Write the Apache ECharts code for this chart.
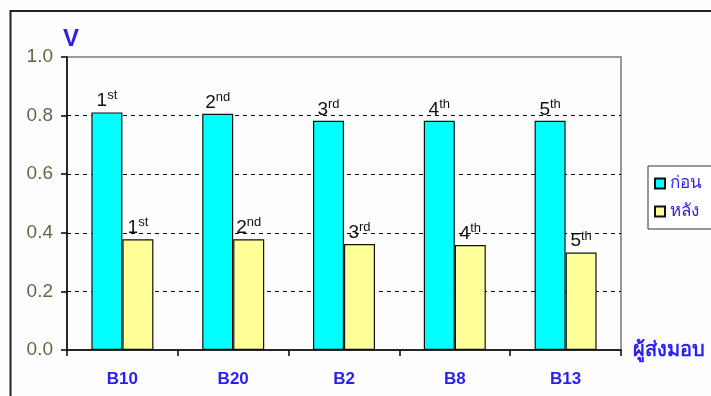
<!DOCTYPE html>
<html>
<head>
<meta charset="utf-8">
<script src="https://cdn.jsdelivr.net/npm/echarts@6/dist/echarts.min.js"></script>
<style>
  html, body { margin: 0; padding: 0; background: #fdfdfd; }
  #chart { width: 711px; height: 396px; }
</style>
</head>
<body>
<div id="chart"></div>
<script>
var categories = ['B10', 'B20', 'B2', 'B8', 'B13'];
var before = [0.811, 0.806, 0.782, 0.782, 0.782];
var after = [0.378, 0.378, 0.362, 0.358, 0.333];
var rankNum = ['1', '2', '3', '4', '5'];
var rankSuffix = ['st', 'nd', 'rd', 'th', 'th'];
var seriesNames = ['ก่อน', 'หลัง'];

var font = "'Liberation Sans', Arial, 'Noto Sans', sans-serif";
var blue = '#2a1ef0';

var myChart = echarts.init(document.getElementById('chart'));

function rankLabel(p) {
  return '{n|' + rankNum[p.dataIndex] + '}{s|' + rankSuffix[p.dataIndex] + '}';
}
var labelStyle = {
  show: true,
  position: 'top',
  distance: 2,
  formatter: rankLabel,
  rich: {
    n: { fontFamily: font, fontSize: 19, color: '#111', lineHeight: 22, verticalAlign: 'bottom' },
    s: { fontFamily: font, fontSize: 13, color: '#111', lineHeight: 22, verticalAlign: 'bottom', padding: [0, 0, 8, 0] }
  }
};

var option = {
  backgroundColor: '#fdfdfd',
  animation: false,
  grid: {
    left: 67,
    right: 90,
    top: 57,
    bottom: 46,
    show: true,
    borderColor: '#9a9a9a',
    borderWidth: 2,
    backgroundColor: 'transparent'
  },
  graphic: [
    {
      type: 'rect',
      shape: { x: 10.5, y: 11, width: 720, height: 400 },
      style: { fill: 'none', stroke: '#222', lineWidth: 2 },
      z: 100
    }
  ],
  legend: {
    orient: 'vertical',
    left: 648,
    top: 166,
    data: seriesNames,
    itemWidth: 10,
    itemHeight: 10,
    itemGap: 11,
    icon: 'rect',
    padding: [9, 20, 9, 6],
    borderColor: '#333',
    borderWidth: 1,
    backgroundColor: '#fff',
    textStyle: { color: blue, fontSize: 17, fontFamily: font }
  },
  xAxis: {
    type: 'category',
    data: categories,
    name: 'ผู้ส่งมอบ',
    nameLocation: 'end',
    nameGap: 12,
    nameTextStyle: { color: blue, fontSize: 20, fontWeight: 'bold', fontFamily: font, padding: [12, 0, 0, 0] },
    axisLine: { lineStyle: { color: '#000', width: 1.5 } },
    axisTick: { show: true, length: 6, lineStyle: { color: '#000', width: 1.5 } },
    axisLabel: { color: blue, fontSize: 17, fontWeight: 'bold', fontFamily: font, margin: 21 }
  },
  yAxis: {
    type: 'value',
    min: 0,
    max: 1,
    interval: 0.2,
    name: 'V',
    nameLocation: 'end',
    nameGap: 6,
    nameTextStyle: { color: blue, fontSize: 24, fontWeight: 'bold', fontFamily: font, align: 'left', padding: [0, 0, 0, -4] },
    axisLine: { show: true, lineStyle: { color: '#000', width: 1.5 } },
    axisTick: { show: true, length: 6, lineStyle: { color: '#000', width: 1.5 } },
    axisLabel: {
      color: '#6a6444',
      fontSize: 19,
      fontFamily: font,
      margin: 14,
      formatter: function (v) { return v.toFixed(1); }
    },
    splitLine: {
      show: true,
      showMinLine: false,
      showMaxLine: false,
      lineStyle: { color: '#000', type: [4, 4], width: 1 }
    }
  },
  series: [
    {
      name: seriesNames[0],
      type: 'bar',
      data: before,
      barWidth: 31,
      barGap: 0,
      itemStyle: { color: '#00ffff', borderColor: '#111', borderWidth: 1.2 },
      label: labelStyle
    },
    {
      name: seriesNames[1],
      type: 'bar',
      data: after,
      barWidth: 31,
      barGap: 0,
      itemStyle: { color: '#ffff99', borderColor: '#111', borderWidth: 1.2 },
      label: labelStyle
    }
  ]
};
myChart.setOption(option);
window.addEventListener('resize', function () {
  myChart.resize();
});
</script>
</body>
</html>
